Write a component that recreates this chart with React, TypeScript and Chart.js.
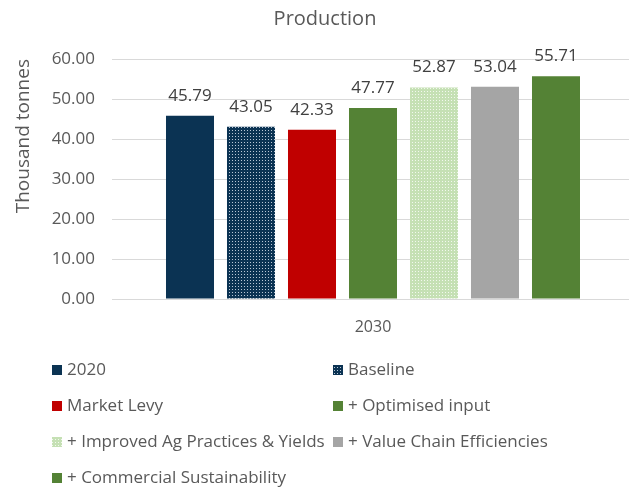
import React, { useEffect, useRef } from "react";
import { Chart, registerables } from "chart.js";

Chart.register(...registerables);

// ---- data ----
const categories = ["2030"];
const seriesNames = [
  "2020",
  "Baseline",
  "Market Levy",
  "+ Optimised input",
  "+ Improved Ag Practices & Yields",
  "+ Value Chain Efficiencies",
  "+ Commercial Sustainability",
];
const seriesValues = [45.79, 43.05, 42.33, 47.77, 52.87, 53.04, 55.71];
const yMin = 0;
const yMax = 60;
const yStep = 10;

// ---- styles ----
const FONT = "'Open Sans', 'Noto Sans', sans-serif";
const TEXT = "#595959";
const LABEL = "#404040";

function makeDots(base: string, dot: string): CanvasPattern | string {
  const c = document.createElement("canvas");
  c.width = 3;
  c.height = 3;
  const g = c.getContext("2d");
  if (!g) return base;
  g.fillStyle = base;
  g.fillRect(0, 0, 3, 3);
  g.fillStyle = dot;
  g.fillRect(1, 1, 1, 1);
  const p = g.createPattern(c, "repeat");
  return p || base;
}

const dataLabelPlugin = {
  id: "dataLabels",
  afterDatasetsDraw(chart: any) {
    const ctx = chart.ctx;
    ctx.save();
    ctx.font = `17px ${FONT}`;
    ctx.fillStyle = LABEL;
    ctx.textAlign = "center";
    ctx.textBaseline = "middle";
    chart.data.datasets.forEach((ds: any, i: number) => {
      const meta = chart.getDatasetMeta(i);
      meta.data.forEach((el: any, j: number) => {
        const v = ds.data[j];
        ctx.fillText(Number(v).toFixed(2), el.x, el.y - 20);
      });
    });
    ctx.restore();
  },
};

const gridLegendPlugin = {
  id: "gridLegend",
  afterDraw(chart: any) {
    const ctx = chart.ctx;
    const x0 = 52;
    const colW = 281;
    const y0 = 370;
    const rowH = 36;
    ctx.save();
    ctx.font = `17px ${FONT}`;
    ctx.textAlign = "left";
    ctx.textBaseline = "middle";
    chart.data.datasets.forEach((ds: any, i: number) => {
      const col = i % 2;
      const row = Math.floor(i / 2);
      const x = x0 + col * colW;
      const y = y0 + row * rowH;
      ctx.fillStyle = ds.backgroundColor;
      ctx.fillRect(x, y - 5, 10, 10);
      ctx.fillStyle = TEXT;
      ctx.fillText(ds.label, x + 15, y);
    });
    ctx.restore();
  },
};

export default function App() {
  const ref = useRef<HTMLCanvasElement | null>(null);

  useEffect(() => {
    document.body.style.margin = "0";
    const canvas = ref.current;
    if (!canvas) return;

    const colors: (string | CanvasPattern)[] = [
      "#0b3353",
      makeDots("#0b3353", "#b9c7d6"),
      "#c00000",
      "#548235",
      makeDots("#c5e0b4", "#f2f8ee"),
      "#a5a5a5",
      "#548235",
    ];

    const chart = new Chart(canvas, {
      type: "bar",
      data: {
        labels: categories,
        datasets: seriesNames.map((name, i) => ({
          label: name,
          data: [seriesValues[i]],
          backgroundColor: colors[i],
          borderWidth: 0,
          categoryPercentage: 0.818,
          barPercentage: 0.787,
        })),
      },
      options: {
        responsive: false,
        animation: false,
        devicePixelRatio: 1,
        layout: { padding: { left: 16, right: 0, top: 0, bottom: 0 } },
        plugins: {
          legend: { display: false },
          tooltip: { enabled: false },
          title: {
            display: true,
            text: "Production",
            color: TEXT,
            font: { family: FONT, size: 20, weight: "normal" },
            padding: { top: 7, bottom: 28 },
          },
        },
        scales: {
          x: {
            grid: { display: false, drawTicks: false },
            border: { display: false },
            ticks: {
              color: TEXT,
              font: { family: FONT, size: 16 },
              padding: 19,
            },
            afterFit: (scale: any) => {
              scale.height = 189;
            },
          },
          y: {
            min: yMin,
            max: yMax,
            grid: { color: "#d9d9d9", drawTicks: false, lineWidth: 1 },
            border: { display: false },
            ticks: {
              stepSize: yStep,
              color: TEXT,
              font: { family: FONT, size: 17 },
              padding: 17,
              callback: (v: any) => Number(v).toFixed(2),
            },
            title: {
              display: true,
              text: "Thousand tonnes",
              color: TEXT,
              align: "end",
              font: { family: FONT, size: 19 },
              padding: { top: -4, bottom: 0 },
            },
            afterFit: (scale: any) => {
              scale.width = 96;
            },
          },
        },
      },
      plugins: [dataLabelPlugin, gridLegendPlugin],
    } as any);

    return () => chart.destroy();
  }, []);

  return (
    <div
      style={{
        position: "absolute",
        left: 0,
        top: 0,
        width: 629,
        height: 488,
        overflow: "hidden",
        background: "#ffffff",
      }}
    >
      <canvas ref={ref} width={634} height={488} style={{ width: 634, height: 488, display: "block" }} />
    </div>
  );
}
